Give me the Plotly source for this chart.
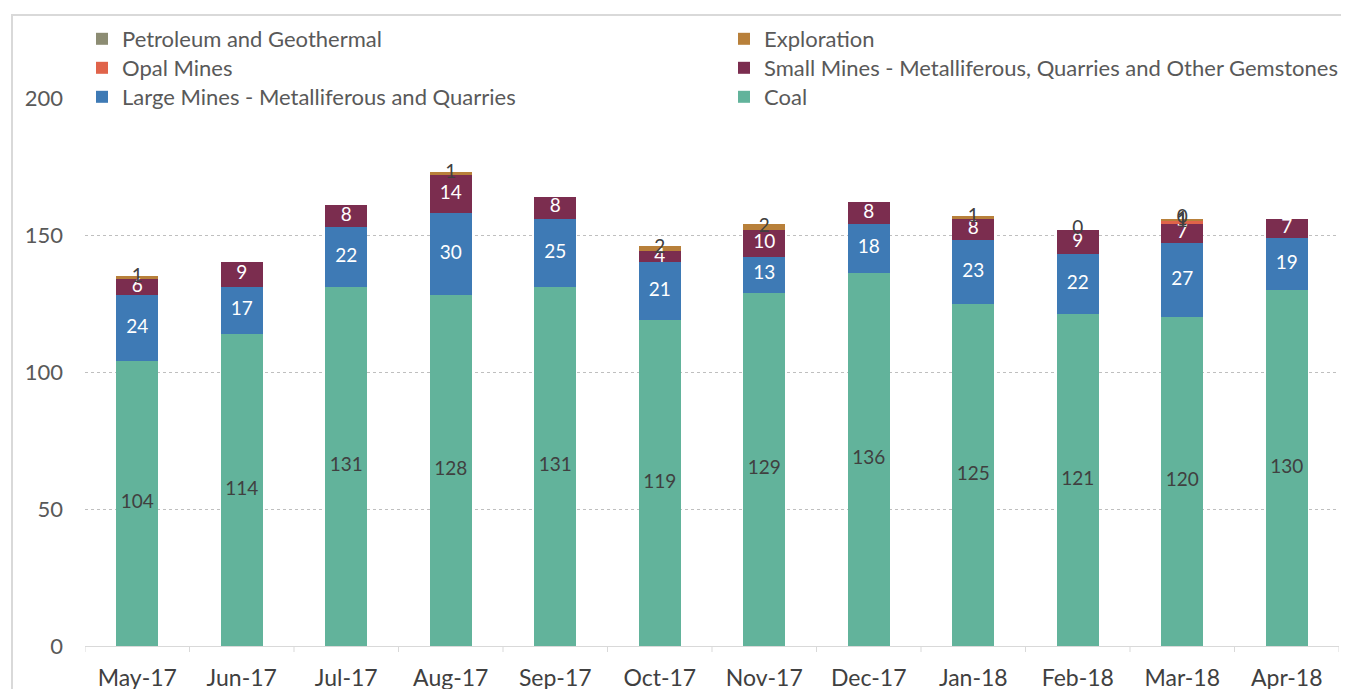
import plotly.graph_objects as go

months = ["May-17", "Jun-17", "Jul-17", "Aug-17", "Sep-17", "Oct-17",
          "Nov-17", "Dec-17", "Jan-18", "Feb-18", "Mar-18", "Apr-18"]

coal = [104, 114, 131, 128, 131, 119, 129, 136, 125, 121, 120, 130]
large_mines = [24, 17, 22, 30, 25, 21, 13, 18, 23, 22, 27, 19]
small_mines = [6, 9, 8, 14, 8, 4, 10, 8, 8, 9, 7, 7]
opal_mines = [0, 0, 0, 0, 0, 0, 0, 0, 0, 0, 1, 0]
exploration = [1, 0, 0, 1, 0, 2, 2, 0, 1, 0, 1, 0]
petroleum = [0, 0, 0, 0, 0, 0, 0, 0, 0, 0, 0, 0]

# labels as shown in the chart (blank = no label)
coal_lbl = [str(v) for v in coal]
large_lbl = [str(v) for v in large_mines]
small_lbl = [str(v) for v in small_mines]
opal_lbl = ["", "", "", "", "", "", "", "", "", "", "1", ""]
expl_lbl = ["1", "", "", "1", "", "2", "2", "", "1", "0", "1", ""]
petro_lbl = ["", "", "", "", "", "", "", "", "", "", "0", ""]

# (name, values, labels, colour, label colour, legend column, legend row)
series = [
    ("Coal", coal, coal_lbl, "#62b39b", "#404040", 1, 2),
    ("Large Mines - Metalliferous and Quarries", large_mines, large_lbl, "#3e7ab5", "white", 0, 2),
    ("Small Mines - Metalliferous, Quarries and Other Gemstones", small_mines, small_lbl, "#7b2d4f", "white", 1, 1),
    ("Opal Mines", opal_mines, opal_lbl, "#e0634a", "#404040", 0, 1),
    ("Exploration", exploration, expl_lbl, "#b8803a", "#404040", 1, 0),
    ("Petroleum and Geothermal", petroleum, petro_lbl, "#8c8c73", "#404040", 0, 0),
]

FONT = "Lato, 'Open Sans', sans-serif"

# page geometry (screen pixels; the page body adds an 8px offset)
OFF = 8
W, H = 1349 - OFF, 689 - OFF
PL, PT, PR, PB = 85, 98, 1339, 646          # plot area on screen
L, T, R, B = PL - OFF, PT - OFF, (W + OFF) - PR, (H + OFF) - PB
pw, ph = PR - PL, PB - PT


def px(sx):
    return (sx - PL) / pw


def py(sy):
    return (PB - sy) / ph


col_left = [82, 724]
row_mid = [39, 68, 97]

fig = go.Figure()
base = [0] * len(months)
label_traces = []
legends = {}
for i, (name, vals, lbls, color, tcolor, col, row) in enumerate(series):
    lg = "legend" if i == 0 else f"legend{i + 1}"
    fig.add_trace(go.Bar(
        x=months, y=vals, name=name, marker=dict(color=color, line=dict(width=0)),
        hoverinfo="skip", legend=lg,
    ))
    legends[lg] = dict(
        x=px(col_left[col]), xanchor="left", y=py(row_mid[row]), yanchor="middle",
        font=dict(family=FONT, size=22, color="#595959"),
        bgcolor="rgba(0,0,0,0)", itemwidth=30,
    )
    mids = [b + v / 2 for b, v in zip(base, vals)]
    label_traces.append(go.Scatter(
        x=months, y=mids, text=lbls, mode="text", showlegend=False,
        textfont=dict(family=FONT, size=19, color=tcolor), hoverinfo="skip",
    ))
    base = [b + v for b, v in zip(base, vals)]

for t in label_traces:
    fig.add_trace(t)

fig.update_layout(
    width=W, height=H,
    margin=dict(l=L, r=R, t=T, b=B, autoexpand=False),
    barmode="stack", bargap=0.6,
    plot_bgcolor="white", paper_bgcolor="white",
    font=dict(family=FONT, size=22, color="#595959"),
    xaxis=dict(
        range=[-0.5, len(months) - 0.5],
        showgrid=False, showline=True, linecolor="#d9d9d9", linewidth=1,
        ticks="", tickfont=dict(size=23, color="#404040"),
        ticklabelstandoff=11, fixedrange=True,
    ),
    yaxis=dict(
        range=[0, 200], tickvals=[0, 50, 100, 150, 200],
        showgrid=True, gridcolor="#bfbfbf", griddash="dot", gridwidth=1,
        zeroline=False, showline=False, ticks="",
        tickfont=dict(size=22, color="#595959"), ticklabelstandoff=21,
    ),
    showlegend=True,
    **legends,
)

# category separator tick marks on the x axis
n = len(months)
for i in range(n + 1):
    fig.add_shape(type="line", xref="x", yref="paper",
                  x0=i - 0.5, x1=i - 0.5, y0=0, y1=py(PB + 6),
                  line=dict(color="#d9d9d9", width=1))

# chart border
fig.add_shape(type="rect", xref="paper", yref="paper",
              x0=px(12), x1=px(1360), y0=py(700), y1=py(15),
              line=dict(color="#d9d9d9", width=2), layer="below")

fig.write_html("out.html")
